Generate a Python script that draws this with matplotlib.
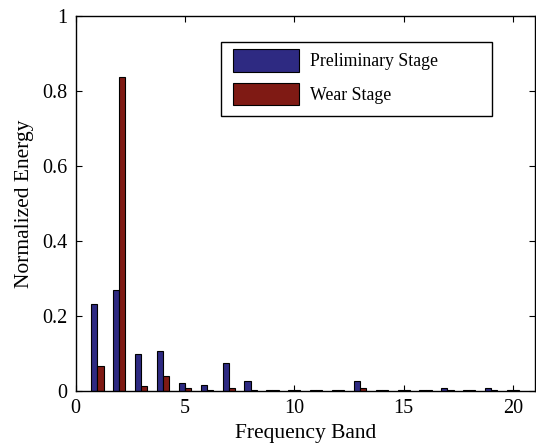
import numpy as np
import matplotlib.pyplot as plt
from matplotlib.patches import Rectangle

bands = np.arange(1, 21)
preliminary = [0.232, 0.270, 0.098, 0.105, 0.020, 0.016, 0.075, 0.027, 0.002, 0.001,
               0.002, 0.002, 0.027, 0.002, 0.002, 0.002, 0.006, 0.002, 0.006, 0.002]
wear = [0.065, 0.838, 0.013, 0.040, 0.007, 0.003, 0.007, 0.003, 0.002, 0.002,
        0.002, 0.002, 0.007, 0.002, 0.002, 0.002, 0.002, 0.002, 0.002, 0.002]
labels = ["Preliminary Stage", "Wear Stage"]

plt.rcParams['font.family'] = ['Liberation Serif', 'DejaVu Serif']

fig = plt.figure(figsize=(5.36, 4.43), dpi=100)
ax = fig.add_axes([0.141, 0.118, 0.857, 0.846])

w = 0.28
ax.bar(bands - w / 2, preliminary, width=w, color='#2e2a82', edgecolor='black',
       linewidth=0.8, label=labels[0])
ax.bar(bands + w / 2, wear, width=w, color='#7f1a14', edgecolor='black',
       linewidth=0.8, label=labels[1])

ax.set_xlim(0, 21)
ax.set_ylim(0, 1)
ax.set_xticks([0, 5, 10, 15, 20])
ax.set_yticks([0, 0.2, 0.4, 0.6, 0.8, 1])
ax.set_yticklabels(['0', '0.2', '0.4', '0.6', '0.8', '1'])
ax.tick_params(direction='in', length=4, labelsize=14.5, top=True, right=True, width=0.8)
ax.tick_params(axis='x', pad=6)
ax.tick_params(axis='y', pad=6)
for s in ax.spines.values():
    s.set_linewidth(1.0)

ax.set_xlabel('Frequency Band', fontsize=15.5, labelpad=4)
ax.set_ylabel('Normalized Energy', fontsize=15.5, labelpad=6)

# matlab style legend box, wider than the text
box = Rectangle((221 / 536, 1 - 116 / 443), 271 / 536, 74 / 443,
                transform=fig.transFigure, facecolor='white',
                edgecolor='black', linewidth=1.0, zorder=5, clip_on=False)
ax.add_patch(box)
leg = ax.legend(loc='upper left', bbox_to_anchor=(233 / 536, 1 - 49 / 443),
                bbox_transform=fig.transFigure, fontsize=12.8, frameon=False,
                handlelength=3.7, handleheight=1.6, borderpad=0, labelspacing=0.6,
                handletextpad=0.65, borderaxespad=0)
leg.set_zorder(6)

fig.savefig('out.png', dpi=100)
